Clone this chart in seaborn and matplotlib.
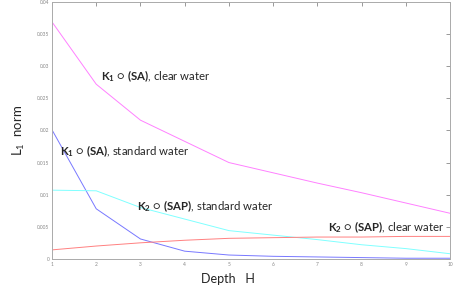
import numpy as np
import pandas as pd
import matplotlib
matplotlib.use("Agg")
import matplotlib.pyplot as plt
import seaborn as sns

# data
depth = [1, 2, 3, 4, 5, 6, 7, 8, 9, 10]
k1_sa_clear = [0.0369, 0.0272, 0.0216, 0.0183, 0.0150, 0.0134, 0.0118, 0.0103, 0.0087, 0.0071]
k1_sa_standard = [0.0201, 0.0078, 0.0031, 0.0012, 0.0006, 0.0004, 0.0003, 0.0002, 0.0001, 0.0001]
k2_sap_standard = [0.0107, 0.0106, 0.0080, 0.0062, 0.0044, 0.0037, 0.0030, 0.0022, 0.0016, 0.0008]
k2_sap_clear = [0.0014, 0.0020, 0.0025, 0.0029, 0.0032, 0.0033, 0.0034, 0.0034, 0.0035, 0.0035]

series = {
    "k1_sa_clear": k1_sa_clear,
    "k1_sa_standard": k1_sa_standard,
    "k2_sap_standard": k2_sap_standard,
    "k2_sap_clear": k2_sap_clear,
}
colors = {
    "k1_sa_clear": "#ff80ff",
    "k1_sa_standard": "#7878ff",
    "k2_sap_standard": "#80ffff",
    "k2_sap_clear": "#ff8080",
}

df = pd.DataFrame([(k, d, v) for k, vals in series.items() for d, v in zip(depth, vals)],
                  columns=["series", "depth", "value"])

sns.set_style("white")
plt.rcParams["font.family"] = ["Lato", "DejaVu Sans"]
plt.rcParams["mathtext.fontset"] = "custom"
plt.rcParams["mathtext.rm"] = "Lato"
plt.rcParams["mathtext.bf"] = "Lato:bold"
plt.rcParams["mathtext.it"] = "Lato:italic"

fig = plt.figure(figsize=(4.56, 2.87), dpi=100)
ax = fig.add_axes([0.114, 0.098, 0.873, 0.895])

sns.lineplot(data=df, x="depth", y="value", hue="series", palette=colors,
             linewidth=0.7, legend=False, ax=ax)

ax.set_xlim(1, 10)
ax.set_ylim(0, 0.04)
ax.set_xticks(depth)
ax.set_xticklabels([str(d) for d in depth])
ax.set_yticks(np.arange(0, 0.0401, 0.005))
ax.set_yticklabels(["0", "0.005", "0.01", "0.015", "0.02", "0.025", "0.03", "0.035", "0.04"])
ax.tick_params(direction="in", length=3, width=0.6, labelsize=3.5, colors="#888888",
               top=True, right=True, pad=2)
for s in ax.spines.values():
    s.set_color("#aaaaaa")
    s.set_linewidth(0.7)

ax.set_xlabel("Depth   H", fontsize=9, labelpad=4)
ax.xaxis.set_label_coords(0.442, -0.055)
ax.set_ylabel(r"L$_1$  norm", fontsize=9.5)
ax.yaxis.set_label_coords(-0.062, 0.5)

fs = 8.2
ax.text(2.11, 0.0285, r"$\mathbf{K_1}$ ○ $\mathbf{(SA)}$, clear water", fontsize=fs, va="center")
ax.text(1.18, 0.0167, r"$\mathbf{K_1}$ ○ $\mathbf{(SA)}$, standard water", fontsize=fs, va="center")
ax.text(2.92, 0.0082, r"$\mathbf{K_2}$ ○ $\mathbf{(SAP)}$, standard water", fontsize=fs, va="center")
ax.text(7.24, 0.0050, r"$\mathbf{K_2}$ ○ $\mathbf{(SAP)}$, clear water", fontsize=fs, va="center")

fig.savefig("out.png", dpi=100)
